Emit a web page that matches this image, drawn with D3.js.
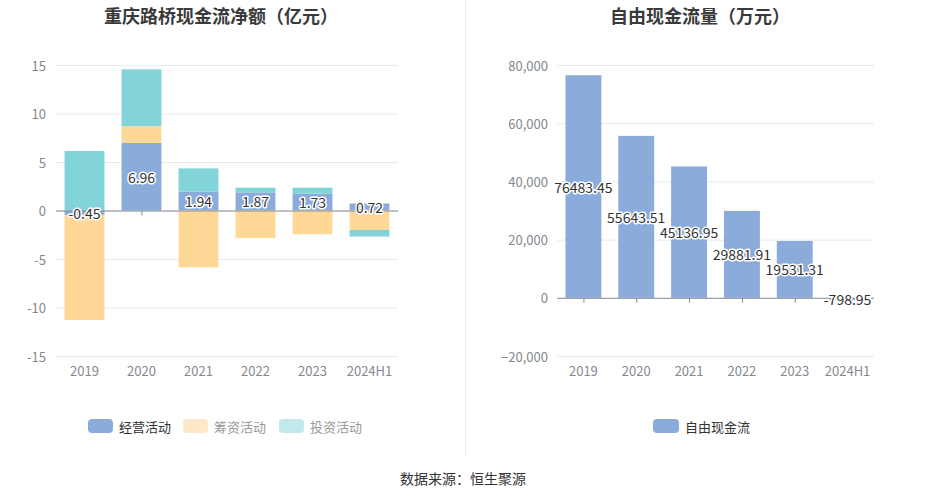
<!DOCTYPE html>
<html><head><meta charset="utf-8">
<script src="https://cdn.jsdelivr.net/npm/d3@7"></script>
<style>
body{margin:0;background:#fff;}
text{font-family:"Noto Sans CJK SC","Noto Sans",sans-serif;}
</style></head>
<body><svg id="c" width="926" height="500"></svg>
<script>
const categories = ["2019","2020","2021","2022","2023","2024H1"];
const operating = [-0.45, 6.96, 1.94, 1.87, 1.73, 0.72];
const financing = [-10.85, 1.73, -5.86, -2.83, -2.45, -2.0];
const investing = [6.13, 5.86, 2.40, 0.48, 0.62, -0.69];
const leftTicks = [-15, -10, -5, 0, 5, 10, 15];
const fcfValues = [76483.45, 55643.51, 45136.95, 29881.91, 19531.31, -798.95];
const rightTicks = [-20000, 0, 20000, 40000, 60000, 80000];
const seriesNames = ["经营活动", "筹资活动", "投资活动"];

const colors = {op:"#8babda", fin:"#ffd897", inv:"#83d4d8"};
const svg = d3.select("#c");
const gridColor = "#e6e9f0", axisColor = "#8a8c94", labelColor = "#85878f";

// divider
svg.append("line").attr("x1",465.5).attr("x2",465.5).attr("y1",0).attr("y2",455)
  .attr("stroke","#ececec").attr("stroke-width",1);

// titles
svg.append("text").attr("x",221).attr("y",23).attr("text-anchor","middle")
  .attr("font-size",18).attr("font-weight","bold").attr("fill","#3a3a3a").text("重庆路桥现金流净额（亿元）");
svg.append("text").attr("x",700).attr("y",23).attr("text-anchor","middle")
  .attr("font-size",18).attr("font-weight","bold").attr("fill","#3a3a3a").text("自由现金流量（万元）");

function valueLabel(g, x, y, t){
  g.append("text").attr("x",x).attr("y",y).attr("text-anchor","middle").attr("dominant-baseline","central")
   .attr("font-size",14).attr("fill","#333").attr("stroke","#fff").attr("stroke-width",3)
   .attr("stroke-linejoin","round").attr("paint-order","stroke").text(t);
}

// ---------- Left chart ----------
{
  const x = d3.scaleBand().domain(categories).range([56,398]).paddingInner(0.3).paddingOuter(0.15);
  const y = d3.scaleLinear().domain([-15,15]).range([356,65]);
  const g = svg.append("g");
  g.selectAll(".grid").data(leftTicks).enter().append("line")
   .attr("x1",56).attr("x2",398).attr("y1",d=>y(d)+0.5).attr("y2",d=>y(d)+0.5)
   .attr("stroke",gridColor);
  g.selectAll(".yl").data(leftTicks).enter().append("text")
   .attr("x",46).attr("y",d=>y(d)).attr("text-anchor","end").attr("dominant-baseline","central")
   .attr("font-size",13).attr("fill",labelColor).text(d=>d);
  g.selectAll(".tk").data(categories).enter().append("line")
   .attr("x1",d=>x(d)+x.bandwidth()/2+0.5).attr("x2",d=>x(d)+x.bandwidth()/2+0.5)
   .attr("y1",y(0)).attr("y2",y(0)+5).attr("stroke",axisColor);
  const rows = categories.map((c,i)=>({cat:c, op:operating[i], fin:financing[i], inv:investing[i]}));
  const stack = d3.stack().keys(["op","fin","inv"]).offset(d3.stackOffsetDiverging)(rows);
  stack.forEach(s=>{
    g.selectAll(null).data(s).enter().append("rect")
     .attr("x",d=>x(d.data.cat)).attr("width",x.bandwidth())
     .attr("y",d=>y(Math.max(d[0],d[1]))).attr("height",d=>Math.abs(y(d[0])-y(d[1])))
     .attr("fill",colors[s.key]);
  });
  g.append("line").attr("x1",56).attr("x2",398).attr("y1",y(0)+0.5).attr("y2",y(0)+0.5).attr("stroke",axisColor);
  g.selectAll(".xl").data(categories).enter().append("text")
   .attr("x",d=>x(d)+x.bandwidth()/2).attr("y",370).attr("text-anchor","middle").attr("dominant-baseline","central")
   .attr("font-size",13).attr("fill",labelColor).text(d=>d);
  stack[0].forEach(d=>{
    valueLabel(g, x(d.data.cat)+x.bandwidth()/2, y((d[0]+d[1])/2), d.data.op.toFixed(2));
  });
  const lg = [{n:seriesNames[0],c:"#8babda",t:"#333",x:88},{n:seriesNames[1],c:"#ffe8c7",t:"#999",x:183},{n:seriesNames[2],c:"#c1e9eb",t:"#999",x:279}];
  lg.forEach(l=>{
    g.append("rect").attr("x",l.x).attr("y",419).attr("width",25).attr("height",14).attr("rx",4).attr("fill",l.c);
    g.append("text").attr("x",l.x+31).attr("y",426).attr("dominant-baseline","central").attr("font-size",13).attr("fill",l.t).text(l.n);
  });
}

// ---------- Right chart ----------
{
  const x = d3.scaleBand().domain(categories).range([557,874]).paddingInner(0.32).paddingOuter(0.16);
  const y = d3.scaleLinear().domain([-20000,80000]).range([356,65]);
  const g = svg.append("g");
  const fmt = d3.format(",");
  g.selectAll(".grid").data(rightTicks).enter().append("line")
   .attr("x1",557).attr("x2",874).attr("y1",d=>y(d)+0.5).attr("y2",d=>y(d)+0.5).attr("stroke",gridColor);
  g.selectAll(".yl").data(rightTicks).enter().append("text")
   .attr("x",548).attr("y",d=>y(d)).attr("text-anchor","end").attr("dominant-baseline","central")
   .attr("font-size",13).attr("fill",labelColor).text(d=>fmt(d));
  g.selectAll(".tk").data(categories).enter().append("line")
   .attr("x1",d=>x(d)+x.bandwidth()/2+0.5).attr("x2",d=>x(d)+x.bandwidth()/2+0.5)
   .attr("y1",y(0)).attr("y2",y(0)+5).attr("stroke",axisColor);
  const rows = categories.map((c,i)=>({cat:c, v:fcfValues[i]}));
  g.selectAll(".bar").data(rows).enter().append("rect")
   .attr("x",d=>x(d.cat)).attr("width",x.bandwidth())
   .attr("y",d=>y(Math.max(0,d.v))).attr("height",d=>Math.abs(y(d.v)-y(0)))
   .attr("fill",colors.op);
  g.append("line").attr("x1",557).attr("x2",874).attr("y1",y(0)+0.5).attr("y2",y(0)+0.5).attr("stroke",axisColor);
  g.selectAll(".xl").data(categories).enter().append("text")
   .attr("x",d=>x(d)+x.bandwidth()/2).attr("y",370).attr("text-anchor","middle").attr("dominant-baseline","central")
   .attr("font-size",13).attr("fill",labelColor).text(d=>d);
  rows.forEach(d=>{
    valueLabel(g, x(d.cat)+x.bandwidth()/2, y(d.v/2), d.v.toFixed(2));
  });
  g.append("rect").attr("x",653).attr("y",419).attr("width",26).attr("height",14).attr("rx",4).attr("fill",colors.op);
  g.append("text").attr("x",685).attr("y",426).attr("dominant-baseline","central").attr("font-size",13).attr("fill","#333").text("自由现金流");
}

svg.append("text").attr("x",463).attr("y",478).attr("text-anchor","middle").attr("dominant-baseline","central")
  .attr("font-size",14).attr("fill","#333").text("数据来源：恒生聚源");
</script></body></html>
